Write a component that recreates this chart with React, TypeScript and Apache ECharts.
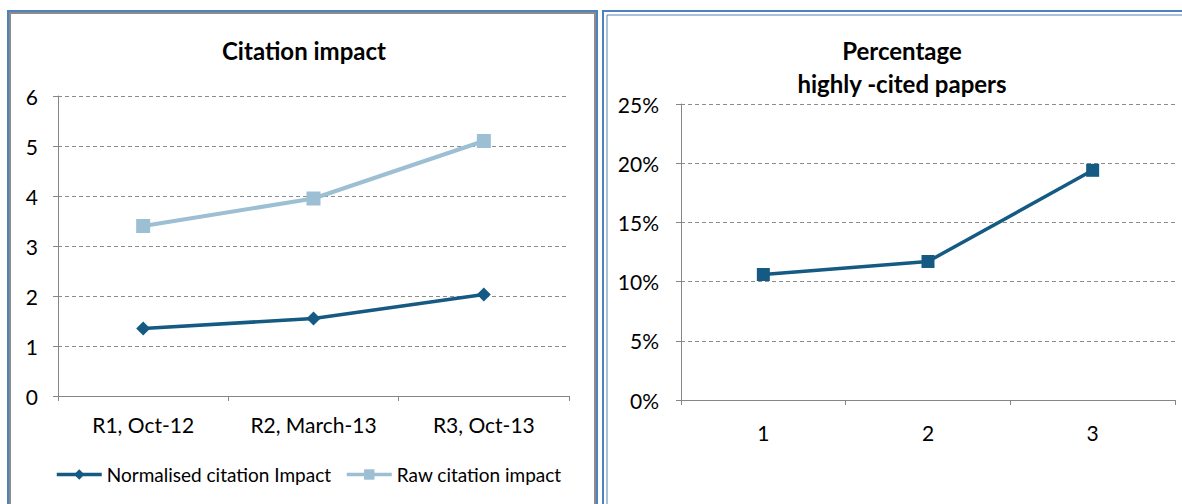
import React, { useEffect, useRef } from "react";
import * as echarts from "echarts";

const rounds = ["R1, Oct-12", "R2, March-13", "R3, Oct-13"];
const normalisedImpact = [1.35, 1.55, 2.03];
const rawImpact = [3.4, 3.95, 5.1];
const pctCategories = ["1", "2", "3"];
const pctHighlyCited = [0.106, 0.117, 0.194];

const FONT = "Lato, 'Noto Sans', sans-serif";
const DARK = "#145a82";
const LIGHT = "#9cbfd3";
const GRIDC = "#8c8c8c";
const AXISC = "#868686";

export default function App() {
  const ref = useRef<HTMLDivElement>(null);
  useEffect(() => {
    if (!ref.current) return;
    const chart = echarts.init(ref.current, undefined, { renderer: "svg" });
    const axisCommon = {
      axisLine: { show: true, lineStyle: { color: AXISC, width: 1 } },
      axisTick: { show: true, length: 5, lineStyle: { color: AXISC } },
    };
    chart.setOption({
      animation: false,
      backgroundColor: "#ffffff",
      textStyle: { fontFamily: FONT },
      graphic: [
        { type: "rect", shape: { x: 8, y: 11, width: 589, height: 520 }, style: { fill: "none", stroke: "#4f81bd", lineWidth: 2 } },
        { type: "rect", shape: { x: 10, y: 13, width: 585, height: 520 }, style: { fill: "none", stroke: "#8c8c8c", lineWidth: 2 } },
        { type: "rect", shape: { x: 603, y: 11, width: 600, height: 520 }, style: { fill: "none", stroke: "#4f81bd", lineWidth: 2 } },
        { type: "rect", shape: { x: 607, y: 15, width: 600, height: 520 }, style: { fill: "none", stroke: "#4f81bd", lineWidth: 1 } },
        { type: "text", x: 304, y: 50, style: { text: "Citation impact", font: `bold 24px ${FONT}`, fill: "#000", textAlign: "center", textVerticalAlign: "middle" } },
        { type: "text", x: 902, y: 50, style: { text: "Percentage", font: `bold 24px ${FONT}`, fill: "#000", textAlign: "center", textVerticalAlign: "middle" } },
        { type: "text", x: 902, y: 83, style: { text: "highly -cited papers", font: `bold 24px ${FONT}`, fill: "#000", textAlign: "center", textVerticalAlign: "middle" } },
      ],
      legend: {
        left: 55,
        top: 465,
        padding: 0,
        itemWidth: 45,
        itemHeight: 13,
        itemGap: 14,
        lineStyle: { width: 3.5 },
        textStyle: { fontFamily: FONT, fontSize: 19, color: "#000" },
        data: ["Normalised citation Impact", "Raw citation impact"],
      },
      grid: [
        { left: 58, right: 613, top: 96, bottom: 108 },
        { left: 681, right: 7, top: 104, bottom: 104 },
      ],
      xAxis: [
        {
          type: "category", gridIndex: 0, data: rounds, boundaryGap: true, ...axisCommon,
          axisTick: { show: true, length: 5, interval: 0, lineStyle: { color: AXISC } },
          axisLabel: { fontFamily: FONT, fontSize: 21, color: "#000", margin: 18, interval: 0 },
        },
        {
          type: "category", gridIndex: 1, data: pctCategories, boundaryGap: true, ...axisCommon,
          axisTick: { show: true, length: 5, interval: 0, lineStyle: { color: AXISC } },
          axisLabel: { fontFamily: FONT, fontSize: 21, color: "#000", margin: 22, interval: 0 },
        },
      ],
      yAxis: [
        {
          type: "value", gridIndex: 0, min: 0, max: 6, interval: 1, ...axisCommon,
          axisLabel: { fontFamily: FONT, fontSize: 21, color: "#000", margin: 20 },
          splitLine: { show: true, lineStyle: { color: GRIDC, type: [4, 3], width: 1 } },
        },
        {
          type: "value", gridIndex: 1, min: 0, max: 0.25, interval: 0.05, ...axisCommon,
          axisLabel: { fontFamily: FONT, fontSize: 21, color: "#000", margin: 22, formatter: (v: number) => `${Math.round(v * 100)}%` },
          splitLine: { show: true, lineStyle: { color: GRIDC, type: [4, 3], width: 1 } },
        },
      ],
      series: [
        {
          name: "Normalised citation Impact", type: "line", xAxisIndex: 0, yAxisIndex: 0,
          data: normalisedImpact, symbol: "diamond", symbolSize: 14,
          lineStyle: { color: DARK, width: 3.5 }, itemStyle: { color: DARK },
        },
        {
          name: "Raw citation impact", type: "line", xAxisIndex: 0, yAxisIndex: 0,
          data: rawImpact, symbol: "rect", symbolSize: 14,
          lineStyle: { color: LIGHT, width: 4 }, itemStyle: { color: LIGHT },
        },
        {
          name: "Percentage highly-cited papers", type: "line", xAxisIndex: 1, yAxisIndex: 1,
          data: pctHighlyCited, symbol: "rect", symbolSize: 13,
          lineStyle: { color: DARK, width: 3.5 }, itemStyle: { color: DARK },
        },
      ],
    });
    return () => chart.dispose();
  }, []);
  return <div ref={ref} style={{ position: "fixed", left: 0, top: 0, width: 1182, height: 504 }} />;
}
